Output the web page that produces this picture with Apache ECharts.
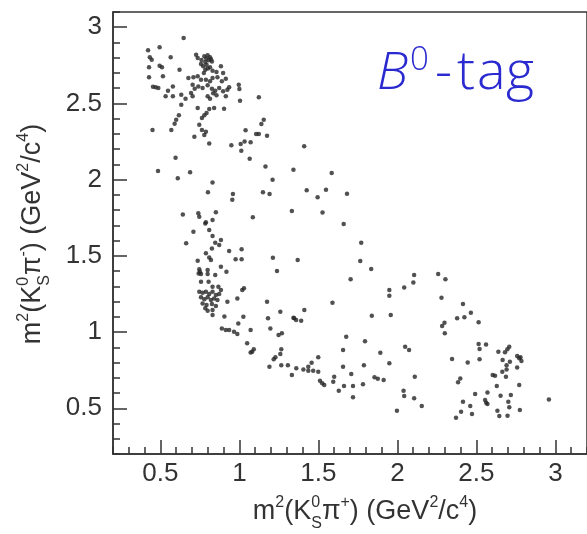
<!DOCTYPE html>
<html>
<head>
<meta charset="utf-8">
<script src="https://cdn.jsdelivr.net/npm/echarts@6/dist/echarts.min.js"></script>
<style>html,body{margin:0;padding:0;background:#fff}#c{width:587px;height:534px}</style>
</head>
<body>
<div id="c"></div>
<script>
// ---- data: [m2(KSpi+), m2(KSpi-)] in GeV^2/c^4 ----
const pointsUpper = [
 [0.647,2.929],[0.422,2.849],[0.495,2.868],[0.433,2.803],[0.445,2.787],[0.565,2.803],[0.726,2.820],[0.736,2.798],
 [0.778,2.809],[0.799,2.816],[0.814,2.803],[0.805,2.783],[0.784,2.772],[0.826,2.776],[0.757,2.759],[0.771,2.744],
 [0.792,2.754],[0.814,2.737],[0.784,2.721],[0.830,2.715],[0.428,2.737],[0.495,2.748],[0.510,2.737],[0.621,2.721],
 [0.883,2.744],[0.855,2.706],[0.897,2.700],[0.428,2.672],[0.516,2.678],[0.677,2.667],[0.709,2.672],[0.736,2.678],
 [0.757,2.656],[0.788,2.656],[0.814,2.645],[0.830,2.667],[0.861,2.672],[0.889,2.645],[0.914,2.662],[0.453,2.610],
 [0.470,2.606],[0.487,2.601],[0.579,2.612],[0.704,2.623],[0.717,2.597],[0.740,2.612],[0.767,2.601],[0.799,2.619],
 [0.826,2.597],[0.847,2.584],[0.872,2.601],[0.897,2.580],[0.924,2.590],[0.548,2.584],[0.533,2.547],[0.579,2.547],
 [0.632,2.557],[0.659,2.531],[0.694,2.569],[0.704,2.547],[0.799,2.547],[0.814,2.531],[0.834,2.567],[0.855,2.553],
 [0.914,2.547],[0.736,2.470],[0.809,2.463],[0.840,2.470],[0.632,2.492],[0.617,2.422],[0.600,2.393],[0.590,2.367],
 [0.763,2.404],[0.778,2.422],[0.792,2.437],[0.746,2.360],[0.790,2.795],[0.820,2.790],[0.760,2.785],[0.800,2.730],
 [0.775,2.700]
];
const pointsUpperRight = [
 [0.996,2.623],[1.000,2.595],[1.004,2.518],[1.123,2.540],[0.903,2.466],[0.935,2.606],[1.154,2.393],[1.139,2.365],
 [1.039,2.324],[1.106,2.299],[1.123,2.299],[1.175,2.288],[0.949,2.225],[1.008,2.234],[1.033,2.251],[1.071,2.245],
 [1.012,2.190],[1.065,2.137],[1.410,2.219],[1.165,2.087],[1.342,2.065],[1.210,2.000],[1.584,2.044],[0.959,1.906],
 [1.149,1.917],[1.191,1.906],[1.426,1.930],[1.548,1.934],[1.681,1.908],[1.495,1.884],[0.955,1.868]
];
const pointsMiddle = [
 [0.450,2.326],[0.569,2.326],[0.715,2.282],[0.778,2.293],[0.788,2.315],[0.763,2.326],[0.809,2.238],[0.596,2.144],
 [0.485,2.057],[0.610,2.009],[0.688,2.048],[0.830,1.982],[0.801,1.917],[0.642,1.772],[0.740,1.779],[0.746,1.757],
 [0.851,1.786],[0.788,1.720],[0.830,1.735],[1.085,1.753],[1.332,1.794],[1.526,1.785],[1.660,1.709],[1.771,1.586]
];
const pointsLowerLeft = [
 [0.784,1.713],[0.709,1.658],[0.809,1.669],[0.830,1.630],[0.663,1.582],[0.847,1.586],[0.883,1.604],[0.872,1.571],
 [0.826,1.549],[0.935,1.532],[1.014,1.543],[0.788,1.517],[0.809,1.490],[0.820,1.473],[0.736,1.468],[0.976,1.477],
 [1.014,1.477],[0.883,1.429],[0.918,1.396],[0.746,1.412],[0.750,1.396],[0.757,1.381],[0.742,1.385],[0.799,1.407],
 [0.799,1.381],[0.847,1.374],[0.757,1.330],[0.805,1.330],[0.830,1.297],[0.867,1.297],[0.883,1.276],[0.746,1.265],
 [0.767,1.258],[0.788,1.265],[0.809,1.250],[0.830,1.265],[0.851,1.243],[0.872,1.250],[0.757,1.228],[0.778,1.215],
 [0.799,1.228],[0.820,1.210],[0.840,1.221],[0.861,1.210],[0.767,1.188],[0.792,1.177],[0.826,1.184],[0.851,1.171],
 [0.784,1.156],[0.799,1.140],[0.830,1.144],[0.924,1.199],[0.987,1.221],[1.018,1.276],[1.029,1.287],[0.830,1.112],
 [0.905,1.102],[1.025,1.100]
];
const pointsLowerBand = [
 [1.238,1.400],[1.175,1.199],[1.259,1.133],[1.181,1.090],[1.347,1.090],[0.993,1.057],[0.889,1.024],[0.914,1.013],
 [0.935,1.013],[0.966,1.002],[0.987,0.987],[1.071,1.013],[1.196,1.024],[1.269,0.992],[1.248,0.981],[1.049,0.926],
 [1.091,0.887],[1.071,0.866],[1.081,0.871],[1.265,0.887],[1.259,0.856],[1.228,0.834],[1.217,0.821],[1.190,0.772],
 [1.265,0.783],[1.307,0.783],[1.332,0.718],[1.360,0.762],[1.405,0.755],[1.436,0.772],[1.457,0.798],[1.436,0.746],
 [1.467,0.746],[1.499,0.834],[1.499,0.740],[1.510,0.681],[1.524,0.664],[1.537,0.652],[1.600,0.707],[1.594,0.674],
 [1.629,0.615],[1.662,0.646],[1.656,0.882],[1.656,0.772],[1.676,0.969],[1.708,0.725],[1.719,0.646],[1.719,0.572],
 [1.212,1.488],[1.369,1.473],[1.765,1.466],[1.704,1.346],[1.589,1.192],[1.411,1.145],[1.342,1.094],[1.359,1.079],
 [1.391,1.074]
];
const pointsRight = [
 [1.834,1.414],[2.106,1.374],[2.101,1.326],[2.043,1.293],[1.949,1.276],[1.949,1.238],[2.258,1.381],[2.304,1.346],
 [2.279,1.225],[2.415,1.184],[2.465,1.127],[2.378,1.090],[2.424,1.097],[2.298,1.061],[2.283,1.039],[2.300,0.992],
 [1.838,1.107],[1.958,1.112],[1.795,0.939],[1.892,0.864],[2.049,0.904],[2.074,0.882],[1.788,0.782],[1.949,0.795],
 [2.346,0.823],[2.445,0.801],[2.398,0.696],[2.384,0.670],[1.855,0.703],[1.876,0.694],[1.913,0.685],[1.782,0.657],
 [2.110,0.707],[2.039,0.615],[2.043,0.580],[2.106,0.565],[2.154,0.515],[1.997,0.484],[2.415,0.543],[2.461,0.515],
 [2.403,0.477],[2.371,0.438],[2.514,1.064],[2.514,0.921],[2.520,0.889],[2.561,0.919],[2.520,0.821],[2.639,0.871],
 [2.681,0.867],[2.696,0.887],[2.708,0.904],[2.666,0.816],[2.712,0.805],[2.691,0.783],[2.691,0.755],[2.758,0.843],
 [2.771,0.828],[2.785,0.810],[2.779,0.834],[2.758,0.768],[2.664,0.740],[2.687,0.707],[2.603,0.718],[2.618,0.713],
 [2.629,0.646],[2.771,0.652],[2.492,0.593],[2.570,0.604],[2.555,0.554],[2.562,0.536],[2.570,0.528],[2.653,0.582],
 [2.718,0.587],[2.702,0.543],[2.708,0.506],[2.472,0.462],[2.633,0.484],[2.645,0.449],[2.697,0.451],[2.775,0.488],
 [2.959,0.558]
];
const xTickLabels = [0.5, 1, 1.5, 2, 2.5, 3];
const yTickLabels = [0.5, 1, 1.5, 2, 2.5, 3];
const xRange = [0.2, 3.2];
const yRange = [0.2, 3.1];

// ---- rendering ----
const allPoints = [].concat(pointsUpper, pointsUpperRight, pointsMiddle, pointsLowerLeft, pointsLowerBand, pointsRight);
const FAM = '"Liberation Sans", Arial, sans-serif';
const INK = '#333';
const ctx = document.createElement('canvas').getContext('2d');
function tw(t, font) { ctx.font = font; return ctx.measureText(t).width; }
function piece(t, x, y, font, color) {
  return { type: 'text', x: x, y: y, silent: true,
    style: { text: t, font: font, fill: color, textAlign: 'left', textVerticalAlign: 'middle', align: 'left', verticalAlign: 'middle' } };
}
// parts: ['n', text] normal, ['sup', text], ['ss', sup, sub]
function buildText(parts, size, family, color, smallRatio, supDy, subDy) {
  const small = Math.round(size * smallRatio);
  let x = 0; const kids = [];
  for (const p of parts) {
    const kind = p[0];
    if (kind === 'n') {
      const f = size + 'px ' + family;
      kids.push(piece(p[1], x, 0, f, color)); x += tw(p[1], f);
    } else if (kind === 'sup') {
      const f = small + 'px ' + family;
      kids.push(piece(p[1], x, -size * supDy, f, color)); x += tw(p[1], f);
    } else if (kind === 'ss') {
      const f = small + 'px ' + family;
      kids.push(piece(p[1], x, -size * supDy, f, color));
      kids.push(piece(p[2], x, size * subDy, f, color));
      x += Math.max(tw(p[1], f), tw(p[2], f));
    }
  }
  return { kids: kids, width: x };
}
function centered(built, cx, cy, rot) {
  built.kids.forEach(k => { k.x -= built.width / 2; });
  return { type: 'group', x: cx, y: cy, rotation: rot || 0, children: built.kids };
}

const xTitle = buildText([['n','m'],['sup','2'],['n','(K'],['ss','0','S'],['n','\u03c0'],['sup','+'],['n',') (GeV'],['sup','2'],['n','/c'],['sup','4'],['n',')']],
  27, FAM, INK, 0.6, 0.36, 0.42);
const yTitle = buildText([['n','m'],['sup','2'],['n','(K'],['ss','0','S'],['n','\u03c0'],['sup','-'],['n',') (GeV'],['sup','2'],['n','/c'],['sup','4'],['n',')']],
  27, FAM, INK, 0.6, 0.36, 0.42);

// "B0-tag" label, letter by letter (wide tracking like the reference)
const TAGC = '#2a2ad0';
const TAGF = '"Open Sans", Lato, sans-serif';
const tagKids = [
  piece('B', 377, 74, 'italic 300 52px ' + TAGF, TAGC),
  piece('0', 410, 61, '300 33px ' + TAGF, TAGC),
  piece('-', 435, 74, '300 53px ' + TAGF, TAGC),
  piece('t', 457, 74, '300 54px ' + TAGF, TAGC),
  piece('a', 477, 74, '300 54px ' + TAGF, TAGC),
  piece('g', 506, 74, '300 54px ' + TAGF, TAGC)
];

const tickStyle = { color: INK, width: 1.5 };
const chart = echarts.init(document.getElementById('c'), null, { renderer: 'canvas' });
chart.setOption({
  animation: false,
  backgroundColor: '#fff',
  grid: { left: 113, top: 12, width: 478, height: 442, show: true, borderColor: INK, borderWidth: 1.5, backgroundColor: 'transparent' },
  xAxis: [
    { type: 'value', min: xRange[0], max: xRange[1], position: 'bottom',
      axisLine: { show: true, onZero: false, lineStyle: tickStyle },
      axisTick: { show: true, inside: true, length: 14, customValues: xTickLabels, lineStyle: tickStyle },
      axisLabel: { show: true, customValues: xTickLabels, margin: 7, fontSize: 26, color: INK, fontFamily: FAM },
      splitLine: { show: false } },
    { type: 'value', min: xRange[0], max: xRange[1], interval: 0.1, position: 'bottom',
      axisLine: { show: false }, axisTick: { show: true, inside: true, length: 7, lineStyle: tickStyle },
      axisLabel: { show: false }, splitLine: { show: false } }
  ],
  yAxis: [
    { type: 'value', min: yRange[0], max: yRange[1], position: 'left',
      axisLine: { show: true, onZero: false, lineStyle: tickStyle },
      axisTick: { show: true, inside: true, length: 14, customValues: yTickLabels, lineStyle: tickStyle },
      axisLabel: { show: true, customValues: yTickLabels, margin: 11, fontSize: 26, color: INK, fontFamily: FAM },
      splitLine: { show: false } },
    { type: 'value', min: yRange[0], max: yRange[1], interval: 0.1, position: 'left',
      axisLine: { show: false }, axisTick: { show: true, inside: true, length: 7, lineStyle: tickStyle },
      axisLabel: { show: false }, splitLine: { show: false } }
  ],
  series: [{
    type: 'scatter', xAxisIndex: 0, yAxisIndex: 0, data: allPoints, symbol: 'circle', symbolSize: 4.5,
    itemStyle: { color: '#262626' }, silent: true
  }],
  graphic: { elements: [
    centered(xTitle, 365, 512, 0),
    centered(yTitle, 33, 234, Math.PI / 2),
    { type: 'group', children: tagKids }
  ] }
});
</script>
</body>
</html>
